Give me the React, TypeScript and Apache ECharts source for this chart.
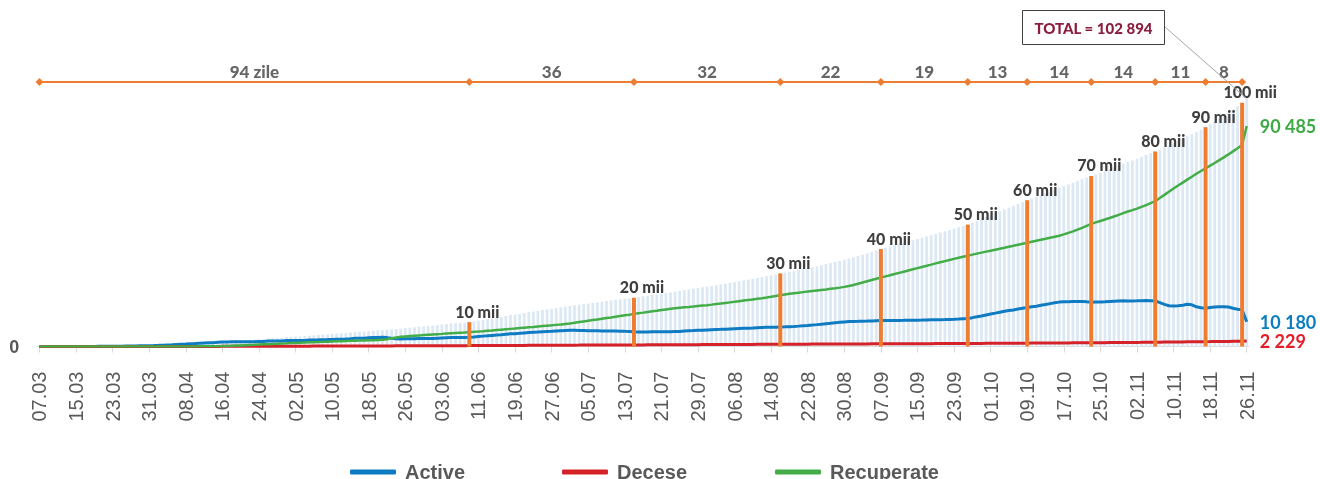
import React, { useEffect, useRef } from "react";
import * as echarts from "echarts";

// ---- categories: every day from 07.03 to 26.11 (2020) ----
const MONTHS = [3, 4, 5, 6, 7, 8, 9, 10, 11];
const MONTH_LEN = [31, 30, 31, 30, 31, 31, 30, 31, 30];
const FIRST_DAY = 7;
const LAST_DAY = 26;
function buildDays(): string[] {
  const out: string[] = [];
  MONTHS.forEach((m, k) => {
    const from = k === 0 ? FIRST_DAY : 1;
    const to = k === MONTHS.length - 1 ? LAST_DAY : MONTH_LEN[k];
    for (let d = from; d <= to; d++) {
      out.push(String(d).padStart(2, "0") + "." + String(m).padStart(2, "0"));
    }
  });
  return out;
}
const days = buildDays();

// ---- cumulative cases (light blue bars) ----
const total = [
  // Mar
  1, 3, 3, 3, 6, 6, 12, 23, 23, 29, 30, 36, 49, 66, 80, 94, 109, 125, 149, 177, 199, 231, 263, 298, 353,
  // Apr
  423, 505, 591, 694, 752, 864, 965, 1056, 1174, 1289, 1438, 1560, 1662, 1712, 1934, 2049, 2154, 2264, 2378, 2472, 2548, 2614, 2778, 2926, 3056, 3304, 3408, 3481, 3638, 3897,
  // May
  3980, 4052, 4121, 4248, 4476, 4605, 4728, 4867, 5009, 5154, 5297, 5406, 5553, 5745, 5934, 6060, 6138, 6340, 6483, 6594, 6704, 6864, 7005, 7147, 7305, 7537, 7725, 7896, 8098, 8251, 8360,
  // Jun
  8548, 8795, 9018, 9247, 9456, 9590, 9700, 9850, 10050, 10321, 10633, 10929, 11207, 11535, 11879, 12186, 12530, 12857, 13106, 13413, 13742, 14066, 14363, 14660, 14976, 15227, 15456, 15772, 16054, 16340,
  // Jul
  16613, 16898, 17150, 17420, 17640, 17875, 18141, 18390, 18666, 18897, 19170, 19439, 19633, 19845, 20040, 20264, 20551, 20810, 21115, 21389, 21661, 21940, 22196, 22505, 22787, 23154, 23426, 23718, 24026, 24287, 24565,
  // Aug
  24880, 25190, 25470, 25780, 26130, 26460, 26800, 27140, 27450, 27760, 28130, 28490, 28840, 29190, 29570, 30010, 30340, 30680, 31020, 31390, 31770, 32150, 32540, 32940, 33350, 33770, 34200, 34640, 35100, 35580, 36070,
  // Sep
  36580, 37120, 37680, 38250, 38830, 39420, 40010, 40490, 40990, 41520, 42040, 42560, 43080, 43590, 44100, 44610, 45140, 45690, 46220, 46750, 47290, 47830, 48380, 48920, 49470, 50020, 50780, 51560, 52340, 53140,
  // Oct
  53930, 54710, 55520, 56290, 57010, 57700, 58480, 59250, 60010, 60680, 61330, 62090, 62840, 63610, 64370, 65120, 65790, 66420, 67180, 67940, 68690, 69350, 70020, 70680, 71310, 72020, 72790, 73560, 74320, 75060, 75700,
  // Nov
  76310, 76980, 77790, 78590, 79340, 80030, 80860, 81650, 82390, 83350, 84370, 85330, 86260, 87140, 87970, 88940, 90010, 91240, 92450, 93600, 94780, 95960, 97120, 98560, 100020, 102894,
];

const active = [
  1, 3, 3, 3, 6, 6, 12, 23, 23, 29, 30, 35, 48, 65, 79, 93, 108, 124, 148, 175, 196, 227, 257, 289, 335,
  400, 477, 557, 656, 709, 813, 907, 993, 1109, 1218, 1357, 1467, 1545, 1567, 1750, 1821, 1872, 1903, 1929, 1940, 1932, 1914, 1992, 2045, 2079, 2242, 2260, 2250, 2302, 2476,
  2465, 2449, 2432, 2483, 2626, 2680, 2728, 2790, 2847, 2917, 2986, 3017, 3099, 3216, 3338, 3409, 3423, 3569, 3655, 3702, 3748, 3643, 3405, 3189, 3061, 3144, 3185, 3210, 3265, 3272, 3235,
  3298, 3421, 3516, 3597, 3669, 3687, 3682, 3714, 3790, 3935, 4108, 4257, 4376, 4548, 4714, 4854, 5029, 5199, 5279, 5407, 5566, 5717, 5841, 5955, 6089, 6170, 6231, 6369, 6473, 6562,
  6638, 6626, 6571, 6543, 6477, 6437, 6447, 6409, 6397, 6351, 6327, 6301, 6207, 6141, 6009, 5967, 5987, 5968, 6005, 6011, 6006, 6018, 6015, 6105, 6178, 6357, 6448, 6540, 6637, 6708, 6806,
  6903, 6984, 7027, 7090, 7201, 7293, 7376, 7458, 7510, 7572, 7694, 7806, 7867, 7909, 7941, 8034, 8075, 8147, 8229, 8360, 8502, 8643, 8805, 8976, 9158, 9349, 9540, 9741, 9922, 10084, 10225,
  10278, 10312, 10365, 10419, 10492, 10557, 10620, 10632, 10655, 10688, 10711, 10734, 10767, 10790, 10812, 10834, 10876, 10928, 10950, 10992, 11053, 11124, 11206, 11297, 11408, 11515, 11836, 12187, 12547, 12937,
  13317, 13686, 14086, 14446, 14745, 15015, 15364, 15703, 16032, 16290, 16528, 16886, 17234, 17592, 17920, 18208, 18316, 18334, 18432, 18479, 18466, 18313, 18170, 18218, 18236, 18334, 18492, 18599, 18696, 18723, 18650,
  18700, 18750, 18800, 18850, 18800, 18650, 18000, 17300, 16700, 16600, 16700, 16900, 17300, 17100, 16300, 15900, 15700, 16000, 16200, 16300, 16300, 16200, 15700, 15300, 15100, 10180,
];

const deaths = [
  0, 0, 0, 0, 0, 0, 0, 0, 0, 0, 0, 1, 1, 1, 1, 1, 1, 1, 1, 2, 2, 2, 2, 3, 3,
  5, 6, 8, 9, 12, 15, 19, 22, 23, 27, 29, 31, 40, 45, 49, 53, 57, 61, 69, 72, 76, 80, 86, 91, 97, 102, 108, 111, 116, 121,
  125, 133, 139, 145, 150, 155, 160, 167, 172, 177, 181, 189, 194, 199, 206, 211, 215, 221, 228, 232, 236, 241, 250, 258, 264, 273, 280, 286, 293, 299, 305,
  310, 314, 322, 330, 337, 343, 348, 356, 360, 366, 375, 382, 391, 397, 405, 412, 421, 428, 437, 446, 456, 469, 482, 495, 507, 517, 525, 533, 541, 548,
  555, 562, 569, 577, 583, 588, 594, 601, 609, 616, 623, 628, 636, 644, 651, 657, 664, 672, 680, 688, 695, 702, 711, 720, 729, 737, 748, 758, 769, 779, 789,
  797, 806, 813, 820, 829, 837, 844, 852, 860, 868, 876, 884, 893, 901, 909, 916, 925, 933, 941, 950, 958, 967, 975, 984, 992, 1001, 1010, 1019, 1028, 1036, 1045,
  1052, 1058, 1065, 1071, 1078, 1083, 1090, 1098, 1105, 1112, 1119, 1126, 1133, 1140, 1148, 1156, 1164, 1172, 1180, 1188, 1197, 1206, 1214, 1223, 1232, 1245, 1254, 1263, 1273, 1283,
  1293, 1304, 1314, 1324, 1335, 1345, 1356, 1367, 1378, 1390, 1402, 1414, 1426, 1438, 1450, 1462, 1474, 1486, 1498, 1511, 1524, 1537, 1550, 1562, 1574, 1586, 1598, 1611, 1624, 1637, 1650,
  1668, 1687, 1703, 1722, 1744, 1763, 1780, 1801, 1823, 1840, 1859, 1882, 1903, 1921, 1944, 1967, 1986, 2008, 2033, 2054, 2075, 2101, 2126, 2151, 2190, 2229,
];

const recovered = [
  0, 0, 0, 0, 0, 0, 0, 0, 0, 0, 0, 0, 0, 0, 0, 0, 0, 0, 0, 0, 1, 2, 4, 6, 15,
  18, 22, 26, 29, 31, 36, 39, 41, 42, 44, 52, 62, 77, 100, 135, 175, 225, 300, 380, 460, 540, 620, 700, 790, 880, 960, 1040, 1120, 1220, 1300,
  1390, 1470, 1550, 1620, 1700, 1770, 1840, 1910, 1990, 2060, 2130, 2200, 2260, 2330, 2390, 2440, 2500, 2550, 2600, 2660, 2720, 2980, 3350, 3700, 3980, 4120, 4260, 4400, 4540, 4680, 4820,
  4940, 5060, 5180, 5320, 5450, 5560, 5670, 5780, 5900, 6020, 6150, 6290, 6440, 6590, 6760, 6920, 7080, 7230, 7390, 7560, 7720, 7880, 8040, 8210, 8380, 8540, 8700, 8870, 9040, 9230,
  9420, 9710, 10010, 10300, 10580, 10850, 11100, 11380, 11660, 11930, 12220, 12510, 12790, 13060, 13380, 13640, 13900, 14170, 14430, 14690, 14960, 15220, 15470, 15680, 15880, 16060, 16230, 16420, 16620, 16800, 16970,
  17180, 17400, 17630, 17870, 18100, 18330, 18580, 18830, 19080, 19320, 19560, 19800, 20080, 20380, 20720, 21060, 21340, 21600, 21850, 22080, 22310, 22540, 22760, 22980, 23200, 23420, 23650, 23880, 24150, 24460, 24800,
  25250, 25750, 26250, 26760, 27260, 27780, 28300, 28760, 29230, 29720, 30210, 30700, 31180, 31660, 32140, 32620, 33100, 33590, 34090, 34570, 35040, 35500, 35960, 36400, 36830, 37260, 37690, 38110, 38520, 38920,
  39320, 39720, 40120, 40520, 40930, 41340, 41760, 42180, 42600, 43000, 43400, 43790, 44180, 44580, 45000, 45450, 46000, 46600, 47250, 47950, 48700, 49500, 50300, 50900, 51500, 52100, 52700, 53350, 54000, 54700, 55400,
  55940, 56540, 57290, 58020, 58800, 59620, 60900, 62200, 63500, 64800, 66050, 67250, 68450, 69650, 70850, 72000, 73100, 74200, 75300, 76450, 77600, 78800, 80050, 81350, 82700, 90485,
];

// ---- milestones (orange bars) ----
const milestoneIdx = [94, 130, 162, 184, 203, 216, 230, 244, 255, 263];
const milestoneVal = [10000, 20000, 30000, 40000, 50000, 60000, 70000, 80000, 90000, 100000];
const milestoneLabels = ["10 mii", "20 mii", "30 mii", "40 mii", "50 mii", "60 mii", "70 mii", "80 mii", "90 mii", "100 mii"];
// days between milestones (top orange line)
const gapLabels = ["94 zile", "36", "32", "22", "19", "13", "14", "14", "11", "8"];
const TOP_LEVEL = 108500;

const seriesNames = ["Active", "Decese", "Recuperate"];
const endTexts = ["10 180", "2 229", "90 485"];
const totalText = "TOTAL = 102 894";

const AX = "'Liberation Sans', Arial, sans-serif";
const AN = "Lato, 'Open Sans', sans-serif";
const ORANGE = "#ED7D31";
const BLUE = "#0E7BC2";
const RED = "#D52229";
const GREEN = "#43AD47";

export default function App() {
  const ref = useRef<HTMLDivElement>(null);
  useEffect(() => {
    if (!ref.current) return;
    const chart = echarts.init(ref.current, undefined, { renderer: "svg" });
    const n = days.length;

    const labelByIndex: Record<number, string> = {};
    const orangeData: (number | null)[] = days.map(() => null);
    milestoneIdx.forEach((i, k) => {
      orangeData[i] = milestoneVal[k];
      labelByIndex[i] = milestoneLabels[k];
    });
    const markerIdx = [0, ...milestoneIdx];
    const topLine = markerIdx.map((i) => [i, TOP_LEVEL]);
    const gapData = gapLabels.map((t, k) => ({
      name: t,
      value: [(markerIdx[k] + markerIdx[k + 1]) / 2, TOP_LEVEL],
    }));

    const lineSeries = (name: string, data: number[], color: string, labelColor: string, endText: string, width: number) => ({
      name,
      type: "line",
      xAxisIndex: 0,
      data,
      showSymbol: false,
      symbol: "none",
      color,
      lineStyle: { color, width },
      z: 3,
      endLabel: {
        show: true,
        formatter: () => endText,
        color: labelColor,
        fontFamily: AN,
        fontWeight: "bold",
        fontSize: 18,
        distance: 13,
      },
    });

    const legendBase = {
      top: 457,
      itemWidth: 46,
      itemHeight: 5,
      icon: "roundRect",
      textStyle: { fontFamily: AX, fontSize: 20, fontWeight: "bold", color: "#595959", padding: [0, 0, 0, 4] },
      selectedMode: false,
    };

    chart.setOption({
      animation: false,
      grid: { left: 37.2, right: 71, top: 54, bottom: 132.5, containLabel: false },
      legend: [
        { ...legendBase, data: [seriesNames[0]], left: 345 },
        { ...legendBase, data: [seriesNames[1]], left: 557 },
        { ...legendBase, data: [seriesNames[2]], left: 770 },
      ],
      xAxis: [
        {
          type: "category",
          data: days,
          boundaryGap: true,
          axisLine: { lineStyle: { color: "#d9d9d9", width: 1 } },
          axisTick: { show: true, interval: 7, alignWithLabel: true, length: 6, lineStyle: { color: "#d9d9d9" } },
          axisLabel: { interval: 7, rotate: 90, margin: 25, color: "#595959", fontSize: 20, fontFamily: AX },
          splitLine: { show: false },
        },
        { type: "category", data: days, show: false, boundaryGap: true },
        { type: "value", min: -0.5, max: n - 0.5, show: false },
      ],
      yAxis: {
        type: "value",
        min: 0,
        max: 120000,
        interval: 120000,
        splitLine: { show: false },
        axisLine: { show: false },
        axisTick: { show: false },
        axisLabel: {
          formatter: (v: number) => (v === 0 ? "0" : ""),
          fontSize: 18,
          fontWeight: "bold",
          color: "#595959",
          fontFamily: AX,
          margin: 18,
        },
      },
      series: [
        {
          name: "Total",
          type: "bar",
          xAxisIndex: 0,
          data: total,
          barCategoryGap: "38%",
          itemStyle: { color: "#dce9f5" },
          z: 1,
        },
        lineSeries(seriesNames[0], active, BLUE, "#0B7DC1", endTexts[0], 3),
        lineSeries(seriesNames[1], deaths, RED, "#E31E2A", endTexts[1], 3),
        lineSeries(seriesNames[2], recovered, GREEN, "#3DAA46", endTexts[2], 2.5),
        {
          name: "Praguri",
          type: "bar",
          xAxisIndex: 1,
          data: orangeData,
          barWidth: 4,
          itemStyle: { color: ORANGE },
          z: 4,
          label: {
            show: true,
            position: "top",
            distance: 3,
            offset: [8, 0],
            formatter: (p: any) => labelByIndex[p.dataIndex] || "",
            fontFamily: AN,
            fontWeight: 900,
            fontSize: 16,
            color: "#3f3f3f",
          },
        },
        {
          name: "Zile",
          type: "line",
          xAxisIndex: 2,
          data: topLine,
          symbol: "diamond",
          symbolSize: 8,
          showSymbol: true,
          lineStyle: { color: ORANGE, width: 2 },
          itemStyle: { color: ORANGE },
          z: 5,
        },
        {
          name: "ZileEtichete",
          type: "scatter",
          xAxisIndex: 2,
          data: gapData,
          symbolSize: 1,
          itemStyle: { color: "rgba(0,0,0,0)" },
          z: 6,
          label: {
            show: true,
            position: "top",
            distance: 2,
            formatter: "{b}",
            fontFamily: AN,
            fontWeight: 900,
            fontSize: 17,
            color: "#3f3f3f",
          },
        },
      ],
      graphic: [
        {
          type: "line",
          shape: { x1: 1165, y1: 27, x2: 1246, y2: 98 },
          style: { stroke: "#a6a6a6", lineWidth: 1 },
          z: 10,
        },
        {
          type: "rect",
          shape: { x: 1022.5, y: 10.5, width: 142, height: 34 },
          style: { fill: "#ffffff", stroke: "#404040", lineWidth: 1 },
          z: 11,
        },
        {
          type: "text",
          x: 1093.5,
          y: 28,
          style: {
            text: totalText,
            fill: "#8B1E3F",
            font: `900 15px ${AN}`,
            textAlign: "center",
            textVerticalAlign: "middle",
            align: "center",
            verticalAlign: "middle",
          },
          z: 12,
        },
      ],
    });
    return () => chart.dispose();
  }, []);
  return <div ref={ref} style={{ position: "fixed", left: 0, top: 0, width: 1320, height: 479 }} />;
}
